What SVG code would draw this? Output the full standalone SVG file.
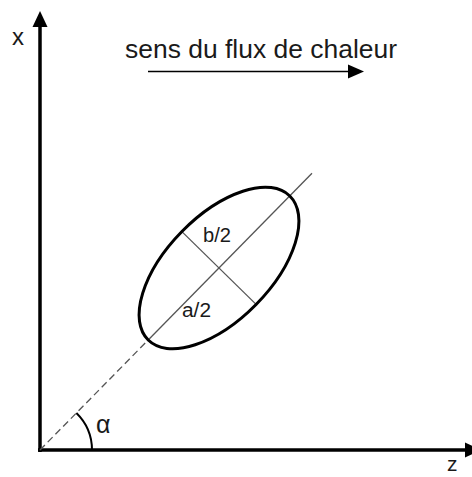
<svg xmlns="http://www.w3.org/2000/svg" width="472" height="477" viewBox="0 0 472 477">
<defs>
<style>
.lbl{font-family:"Liberation Sans",Arial,sans-serif;fill:#1a1a1a}
.axis{stroke:#000;stroke-width:3.5;fill:none}
.thin{stroke:#555;stroke-width:1.3;fill:none}
</style>
</defs>
<rect width="472" height="477" fill="#fff"/>
<g id="connectors">
<line class="axis" x1="40" y1="452" x2="40" y2="26"/>
<polygon points="40,11 32.5,27 47.5,27" fill="#000"/>
<line class="axis" x1="38" y1="450" x2="466" y2="450"/>
<polygon points="481,450 465,442.5 465,457.5" fill="#000"/>
<line x1="148" y1="71.5" x2="350" y2="71.5" stroke="#000" stroke-width="1.6"/>
<polygon points="364,71.5 348,64.5 348,78.5" fill="#000"/>
<line class="thin" x1="40" y1="450" x2="148.2" y2="340" stroke-dasharray="7,4"/>
<line class="thin" x1="148.2" y1="340" x2="312" y2="173.3"/>
<line class="thin" x1="181.9" y1="231.6" x2="256.1" y2="304.4"/>
<path d="M92,450 A52,52 0 0 0 76.4,413" stroke="#000" stroke-width="2" fill="none"/>
</g>
<g id="ellipse">
<ellipse cx="219" cy="268" rx="101" ry="52" transform="rotate(-45.5 219 268)" fill="none" stroke="#000" stroke-width="3"/>
</g>
<g id="labels">
<text class="lbl" x="447" y="471" font-size="21">z</text>
<text class="lbl" x="12" y="45" font-size="24">x</text>
<text class="lbl" x="125" y="58" font-size="25" textLength="272" lengthAdjust="spacingAndGlyphs">sens du flux de chaleur</text>
<text class="lbl" x="203" y="242" font-size="20" textLength="28" lengthAdjust="spacingAndGlyphs">b/2</text>
<text class="lbl" x="182" y="317" font-size="20" textLength="29" lengthAdjust="spacingAndGlyphs">a/2</text>
<text class="lbl" x="96" y="433" font-size="25">α</text>
</g>
</svg>
